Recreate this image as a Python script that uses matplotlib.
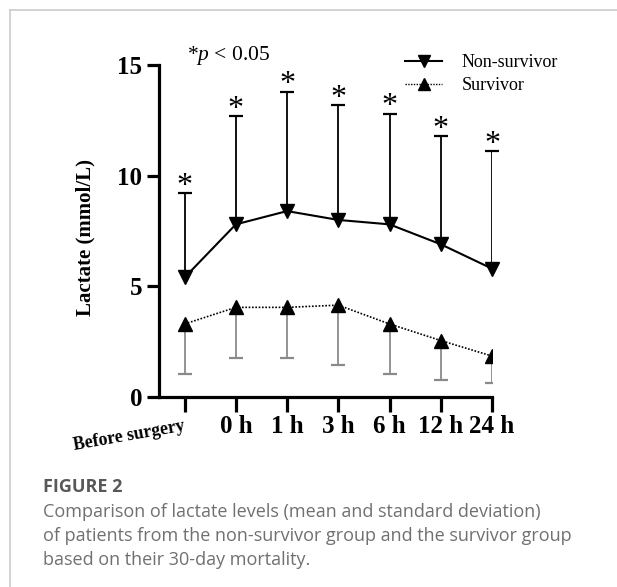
#!/usr/bin/env python3
import numpy as np
import matplotlib
matplotlib.use("Agg")
import matplotlib.pyplot as plt
from matplotlib.lines import Line2D

# ====== DATA ======
time_labels = ["Before surgery", "0 h", "1 h", "3 h", "6 h", "12 h", "24 h"]
nonsurv_mean = [5.4, 7.8, 8.4, 8.0, 7.8, 6.9, 5.8]
nonsurv_sd   = [3.8, 4.9, 5.4, 5.2, 5.0, 4.9, 5.3]
surv_mean    = [3.3, 4.05, 4.05, 4.15, 3.3, 2.55, 1.85]
surv_sd      = [2.25, 2.3, 2.3, 2.7, 2.25, 1.8, 1.2]
sig_marks    = ["*", "*", "*", "*", "*", "*", "*"]
caption_lines = [
    "Comparison of lactate levels (mean and standard deviation)",
    "of patients from the non-survivor group and the survivor group",
    "based on their 30-day mortality.",
]
# ==================

plt.rcParams["font.family"] = ["Liberation Serif", "DejaVu Serif"]
plt.rcParams["mathtext.fontset"] = "custom"
plt.rcParams["mathtext.rm"] = "Liberation Serif"
plt.rcParams["mathtext.it"] = "Liberation Serif:italic"

W, H = 617, 587
fig = plt.figure(figsize=(W / 100, H / 100), dpi=100)

def fx(px):
    return px / W

def fy(py):
    return 1 - py / H

# axes box: y axis at x=159, x end at 492, y=0 at 397, y=15 at 65
ax = fig.add_axes([fx(159), fy(397), fx(492) - fx(159), fy(65) - fy(397)])

x = np.arange(len(time_labels))
nm = np.array(nonsurv_mean)
ns = np.array(nonsurv_sd)
sm = np.array(surv_mean)
ss = np.array(surv_sd)

# one-sided error bars
ax.vlines(x, nm, nm + ns, color="black", lw=1.3, zorder=2)
ax.plot(x, nm + ns, ls="none", marker="_", ms=9.5, mew=1.6, color="black", zorder=2, clip_on=False)
ax.vlines(x, sm - ss, sm, color="#8a8a8a", lw=1.3, zorder=2)
ax.plot(x, sm - ss, ls="none", marker="_", ms=9.5, mew=1.6, color="#8a8a8a", zorder=2)

ax.plot(x, nm, color="black", lw=1.5, marker="v", ms=9.5, zorder=3, clip_on=False)
ax.plot(x, sm, color="black", lw=1.2, ls=(0, (1, 1)), marker="^", ms=9.5, zorder=3)

for xi, top, s in zip(x, nm + ns, sig_marks):
    ax.annotate(s, xy=(xi, top), xytext=(0, -0.5), textcoords="offset points",
                ha="center", va="baseline", fontsize=23, annotation_clip=False)

ax.set_xlim(-0.5, 6.0)
ax.set_ylim(0, 15)
ax.set_yticks([0, 5, 10, 15])
ax.set_xticks(x)
ax.set_xticklabels([""] + time_labels[1:])
for sp in ["top", "right"]:
    ax.spines[sp].set_visible(False)
for sp in ["left", "bottom"]:
    ax.spines[sp].set_linewidth(2.3)
ax.tick_params(axis="y", length=8.5, width=2.3, pad=3.5, labelsize=18)
ax.tick_params(axis="x", length=10.5, width=2.3, pad=2.5, labelsize=18)
for lab in ax.get_xticklabels() + ax.get_yticklabels():
    lab.set_fontweight("bold")

# rotated first label
ax.annotate(time_labels[0], xy=(0, 0), xycoords=("data", "axes fraction"),
            xytext=(-1, -15), textcoords="offset points", rotation=10,
            rotation_mode="anchor", ha="right", va="top",
            fontsize=12.8, fontweight="bold", annotation_clip=False)

fig.text(fx(85), fy(237), "Lactate (mmol/L)", rotation=90, ha="center", va="center",
         fontsize=15, fontweight="bold")

fig.text(fx(187), fy(60), r"*$p$ < 0.05", ha="left", va="baseline", fontsize=15.5)

handles = [
    Line2D([], [], color="black", lw=1.5, marker="v", ms=9),
    Line2D([], [], color="black", lw=1.0, ls=(0, (1, 1)), marker="^", ms=9),
]
fig.legend(handles, ["Non-survivor", "Survivor"], loc="center left",
           bbox_to_anchor=(fx(405), fy(74)), frameon=False, fontsize=13,
           handlelength=2.05, handletextpad=1.1, labelspacing=0.35,
           borderpad=0, borderaxespad=0, numpoints=1)

# frame lines
fig.add_artist(Line2D([fx(9.5), 1], [fy(10), fy(10)], color="#c8c8c8", lw=1.1))
fig.add_artist(Line2D([fx(9.5), fx(9.5)], [fy(10), 0], color="#c8c8c8", lw=1.1))

# caption
fig.text(fx(43), fy(492), "FIGURE 2", ha="left", va="baseline", fontsize=13,
         fontweight="bold", color="#585858", family=["Open Sans", "DejaVu Sans"])
for i, line in enumerate(caption_lines):
    fig.text(fx(43), fy(517 + 24 * i), line, ha="left", va="baseline", fontsize=13,
             color="#707070", family=["Open Sans", "DejaVu Sans"])

fig.savefig("out.png", dpi=100)
